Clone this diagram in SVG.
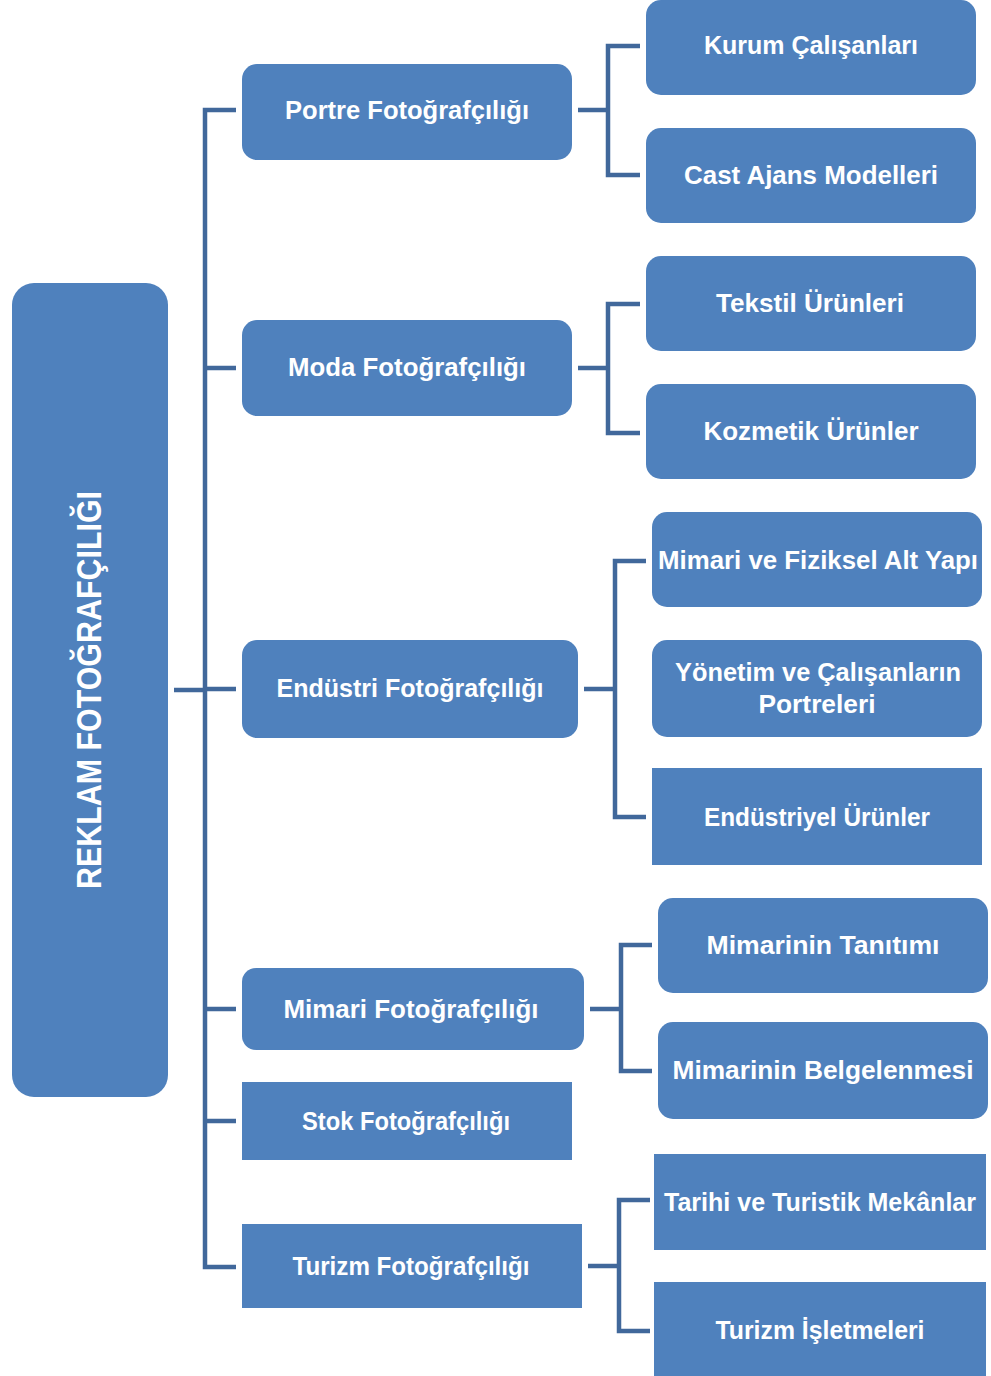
<svg xmlns="http://www.w3.org/2000/svg" width="991" height="1376" viewBox="0 0 991 1376">
<style>
.n{fill:#4F81BD}
.t{fill:#fff;font-family:"Liberation Sans",Arial,sans-serif;font-weight:bold;font-size:26px;text-anchor:middle}
.c{fill:none;stroke:#41689B;stroke-width:4.5;stroke-linejoin:miter}
</style>
<rect width="991" height="1376" fill="#fff"/>
<g id="connectors">
<path class="c" d="M174 690H205M236 110H205V1267H236M205 368H236M205 689H236M205 1009H236M205 1121H236"/>
<path class="c" d="M578 110H608M640 46H608V175H640"/>
<path class="c" d="M578 368H608M640 304H608V433H640"/>
<path class="c" d="M584 689H615M646 561H615V817H646"/>
<path class="c" d="M590 1009H621M652 945H621V1071H652"/>
<path class="c" d="M588 1266H619M650 1200H619V1331H650"/>
</g>
<g id="root"><rect class="n" x="12" y="283" width="156" height="814" rx="22"/>
<text class="t" transform="translate(101,690) rotate(-90)" style="font-size:35px" textLength="398" lengthAdjust="spacingAndGlyphs">REKLAM FOTOĞRAFÇILIĞI</text></g>
<g id="portre"><rect class="n" x="242" y="64" width="330" height="96" rx="15"/><text class="t" x="407" y="119" textLength="244" lengthAdjust="spacingAndGlyphs">Portre Fotoğrafçılığı</text></g>
<g id="moda"><rect class="n" x="242" y="320" width="330" height="96" rx="15"/><text class="t" x="407" y="376" textLength="238" lengthAdjust="spacingAndGlyphs">Moda Fotoğrafçılığı</text></g>
<g id="endustri"><rect class="n" x="242" y="640" width="336" height="98" rx="15"/><text class="t" x="410" y="697" textLength="267" lengthAdjust="spacingAndGlyphs">Endüstri Fotoğrafçılığı</text></g>
<g id="mimari"><rect class="n" x="242" y="968" width="342" height="82" rx="14"/><text class="t" x="411" y="1018" textLength="255" lengthAdjust="spacingAndGlyphs">Mimari Fotoğrafçılığı</text></g>
<g id="stok"><rect class="n" x="242" y="1082" width="330" height="78"/><text class="t" x="406" y="1130" textLength="208" lengthAdjust="spacingAndGlyphs">Stok Fotoğrafçılığı</text></g>
<g id="turizm"><rect class="n" x="242" y="1224" width="340" height="84"/><text class="t" x="411" y="1275" textLength="237" lengthAdjust="spacingAndGlyphs">Turizm Fotoğrafçılığı</text></g>
<g id="kurum"><rect class="n" x="646" y="0" width="330" height="95" rx="15"/><text class="t" x="811" y="54" textLength="214" lengthAdjust="spacingAndGlyphs">Kurum Çalışanları</text></g>
<g id="cast"><rect class="n" x="646" y="128" width="330" height="95" rx="15"/><text class="t" x="811" y="184" textLength="254" lengthAdjust="spacingAndGlyphs">Cast Ajans Modelleri</text></g>
<g id="tekstil"><rect class="n" x="646" y="256" width="330" height="95" rx="15"/><text class="t" x="810" y="312" textLength="188" lengthAdjust="spacingAndGlyphs">Tekstil Ürünleri</text></g>
<g id="kozmetik"><rect class="n" x="646" y="384" width="330" height="95" rx="15"/><text class="t" x="811" y="440" textLength="215" lengthAdjust="spacingAndGlyphs">Kozmetik Ürünler</text></g>
<g id="mimari-fiziksel"><rect class="n" x="652" y="512" width="330" height="95" rx="15"/><text class="t" x="818" y="569" textLength="320" lengthAdjust="spacingAndGlyphs">Mimari ve Fiziksel Alt Yapı</text></g>
<g id="yonetim"><rect class="n" x="652" y="640" width="330" height="97" rx="15"/><text class="t" x="818" y="681" textLength="286" lengthAdjust="spacingAndGlyphs">Yönetim ve Çalışanların</text><text class="t" x="817" y="713" textLength="117" lengthAdjust="spacingAndGlyphs">Portreleri</text></g>
<g id="endustriyel"><rect class="n" x="652" y="768" width="330" height="97"/><text class="t" x="817" y="826" textLength="226" lengthAdjust="spacingAndGlyphs">Endüstriyel Ürünler</text></g>
<g id="tanitim"><rect class="n" x="658" y="898" width="330" height="95" rx="15"/><text class="t" x="823" y="954" textLength="233" lengthAdjust="spacingAndGlyphs">Mimarinin Tanıtımı</text></g>
<g id="belgelenme"><rect class="n" x="658" y="1022" width="330" height="97" rx="15"/><text class="t" x="823" y="1079" textLength="301" lengthAdjust="spacingAndGlyphs">Mimarinin Belgelenmesi</text></g>
<g id="tarihi"><rect class="n" x="654" y="1154" width="332" height="96"/><text class="t" x="820" y="1211" textLength="312" lengthAdjust="spacingAndGlyphs">Tarihi ve Turistik Mekânlar</text></g>
<g id="isletmeler"><rect class="n" x="654" y="1282" width="332" height="96"/><text class="t" x="820" y="1339" textLength="209" lengthAdjust="spacingAndGlyphs">Turizm İşletmeleri</text></g>
</svg>
